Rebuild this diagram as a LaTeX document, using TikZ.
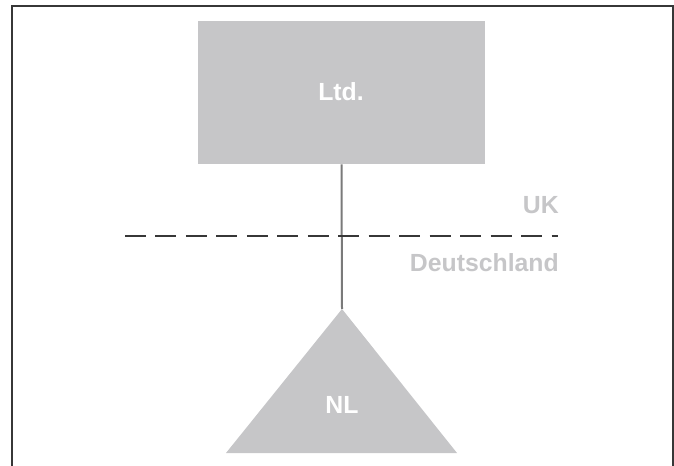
\documentclass[tikz,border=0pt]{standalone}
\usepackage{fontspec}
\setmainfont{Liberation Sans}
\definecolor{boxgray}{RGB}{198,198,200}
\definecolor{linegray}{RGB}{122,122,122}
\definecolor{framegray}{RGB}{55,55,55}
\begin{document}
\begin{tikzpicture}[line cap=butt, line join=miter, x=0.75pt, y=-0.75pt,
    label/.style={font=\fontsize{18.6}{20}\selectfont\bfseries, inner sep=0pt},
    entity/.style={fill=boxgray, draw=none}]
                \useasboundingbox (0, 0) rectangle (674, 466);
                \draw[framegray, line width=1.5pt] (11.5, 470) -- (11.5, 6.5) -- (672.5, 6.5) -- (672.5, 470);
                \node[entity, minimum width=287*0.75pt, minimum height=143*0.75pt, inner sep=0pt] (ltd) at (341.5, 92.5) {};
                \coordinate (nltop) at (342, 309);
                \coordinate (nlleft) at (226, 453);
                \coordinate (nlright) at (457, 453);
                \fill[boxgray] (nltop) -- (nlright) -- (nlleft) -- cycle;
                \draw[linegray, line width=1.5pt] (ltd.south) -- (nltop);
                \coordinate (borderwest) at (125, 236);
                \coordinate (bordereast) at (558, 236);
                \draw[framegray, line width=2pt, dash pattern=on 15.75pt off 7.1pt] (borderwest) -- (bordereast);
                \node[label, white, anchor=base] (ltdtext) at (341, 101) {Ltd.};
                \node[label, white, anchor=base] (nltext) at (342, 413) {NL};
                \foreach \name/\y/\text in {uk/214/UK, de/272/Deutschland}
                    \node[label, boxgray, anchor=base east] (\name) at (559, \y) {\text};
            \end{tikzpicture}
\end{document}
